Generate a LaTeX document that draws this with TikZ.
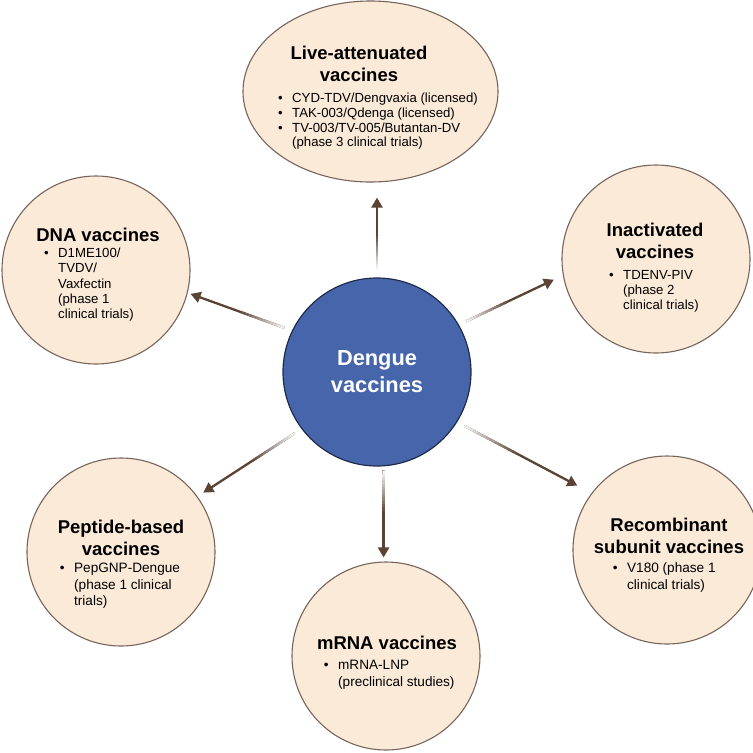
\documentclass[tikz,border=0pt]{standalone}
\usepackage{fontspec}
\setmainfont{Liberation Sans}
\usetikzlibrary{arrows.meta,calc,shapes.geometric}
\definecolor{beige}{HTML}{FBEAD8}
\definecolor{rim}{HTML}{76655B}
\definecolor{arrowbrown}{HTML}{5A4334}
\definecolor{blueC}{HTML}{4765AB}
\definecolor{blueRim}{HTML}{1F2B4D}
\newcommand\ttl[1]{\begin{tabular}[t]{@{}c@{}}#1\end{tabular}}
\newcommand\blist[1]{\begin{tabular}[t]{@{}l@{\hspace{9.5pt}}l@{}}#1\end{tabular}}
\newcommand\gradarrow[2]{%
  \draw[conn] (#1) -- (#2);
  \foreach \i in {0,...,11}{%
    \pgfmathsetmacro\pc{6+\i*7.8}%
    \draw[line width=2.3pt, color=arrowbrown!\pc!white] ($(#1)!\i/26!(#2)$) -- ($(#1)!{(\i+1.1)/26}!(#2)$);
  }%
}
\begin{document}
\begin{tikzpicture}[x=1pt,y=-1pt,
  cat/.style={circle, draw=rim, fill=beige, line width=1.1pt, minimum size=188pt, inner sep=0pt},
  hub/.style={circle, draw=blueRim, fill=blueC, line width=1.2pt, minimum size=188pt, inner sep=0pt},
  titlenode/.style={anchor=base, inner sep=0pt, font=\bfseries\fontsize{18.5}{21.7}\selectfont},
  listnode/.style={anchor=base west, inner sep=0pt, font=\fontsize{13.2}{14.8}\selectfont},
  listnodeb/.style={anchor=base west, inner sep=0pt, font=\fontsize{13.6}{16.6}\selectfont},
  conn/.style={draw=arrowbrown, line width=2.3pt, -{Triangle[length=10pt,width=11pt]}}]
\useasboundingbox (0,0) rectangle (753,753);
\fill[white] (0,0) rectangle (753,753);

% circles
\node[hub] (c) at (377,372) {};
\node[ellipse, draw=rim, fill=beige, line width=1.1pt, minimum width=255pt, minimum height=181pt, inner sep=0pt] (live) at (370.5,91.5) {};
\node[cat] (dna) at (96,270) {};
\node[cat] (inact) at (656,259) {};
\node[cat] (pep) at (121,552) {};
\node[cat] (recomb) at (667,550) {};
\node[cat] (mrna) at (386,656) {};

% centre text
\node[anchor=base, inner sep=0pt, text=white, font=\bfseries\fontsize{21.8}{27}\selectfont] (ctext) at (377,365.8) {\ttl{Dengue\\vaccines}};

% titles and lists
\node[titlenode] (livet) at (359,59.5) {\ttl{Live-attenuated\\vaccines}};
\node[listnode] (livel) at (277.9,102.5) {\blist{\textbullet & CYD-TDV/Dengvaxia (licensed)\\ \textbullet & TAK-003/Qdenga (licensed)\\ \textbullet & TV-003/TV-005/Butantan-DV\\ & (phase 3 clinical trials)}};

\node[titlenode] (dnat) at (98,241.5) {\ttl{DNA vaccines}};
\node[listnode, font=\fontsize{13.2}{15.3}\selectfont] (dnal) at (43.9,257.5) {\blist{\textbullet & D1ME100/\\ & TVDV/\\ & Vaxfectin\\ & (phase 1\\ & clinical trials)}};

\node[titlenode] (inactt) at (655,236.5) {\ttl{Inactivated\\vaccines}};
\node[listnode, font=\fontsize{13.2}{15}\selectfont] (inactl) at (608.9,279.5) {\blist{\textbullet & TDENV-PIV\\ & (phase 2\\ & clinical trials)}};

\node[titlenode] (pept) at (121,533.5) {\ttl{Peptide-based\\vaccines}};
\node[listnodeb] (pepl) at (59.7,572.5) {\blist{\textbullet & PepGNP-Dengue\\ & (phase 1 clinical\\ & trials)}};

\node[titlenode] (recombt) at (669,531.5) {\ttl{Recombinant\\subunit vaccines}};
\node[listnodeb] (recombl) at (612.7,572.5) {\blist{\textbullet & V180 (phase 1\\ & clinical trials)}};

\node[titlenode] (mrnat) at (387,649.5) {\ttl{mRNA vaccines}};
\node[listnodeb] (mrnal) at (323.7,669.5) {\blist{\textbullet & mRNA-LNP\\ & (preclinical studies)}};

% connector end points
\coordinate (lt) at (c.90 |- live.south);
\coordinate (mb) at (c.-86 |- mrna.north);
\coordinate (s1) at ($(c.90)!8pt!(lt)$);      \coordinate (e1) at ($(lt)!15pt!(c.90)$);
\coordinate (s2) at ($(c.154)!8pt!(dna.-14)$); \coordinate (e2) at ($(dna.-14)!3pt!(c.154)$);
\coordinate (s3) at ($(c.30)!8pt!(inact.190)$); \coordinate (e3) at ($(inact.190)!10pt!(c.30)$);
\coordinate (s4) at ($(c.217)!8pt!(pep.36)$);  \coordinate (e4) at ($(pep.36)!7pt!(c.217)$);
\coordinate (s5) at ($(c.-32)!8pt!(recomb.143)$); \coordinate (e5) at ($(recomb.143)!16pt!(c.-32)$);
\coordinate (s6) at ($(c.-86)!4pt!(mb)$);      \coordinate (e6) at ($(mb)!4pt!(c.-86)$);

\gradarrow{s1}{e1}
\gradarrow{s2}{e2}
\gradarrow{s3}{e3}
\gradarrow{s4}{e4}
\gradarrow{s5}{e5}
\gradarrow{s6}{e6}
\end{tikzpicture}
\end{document}
